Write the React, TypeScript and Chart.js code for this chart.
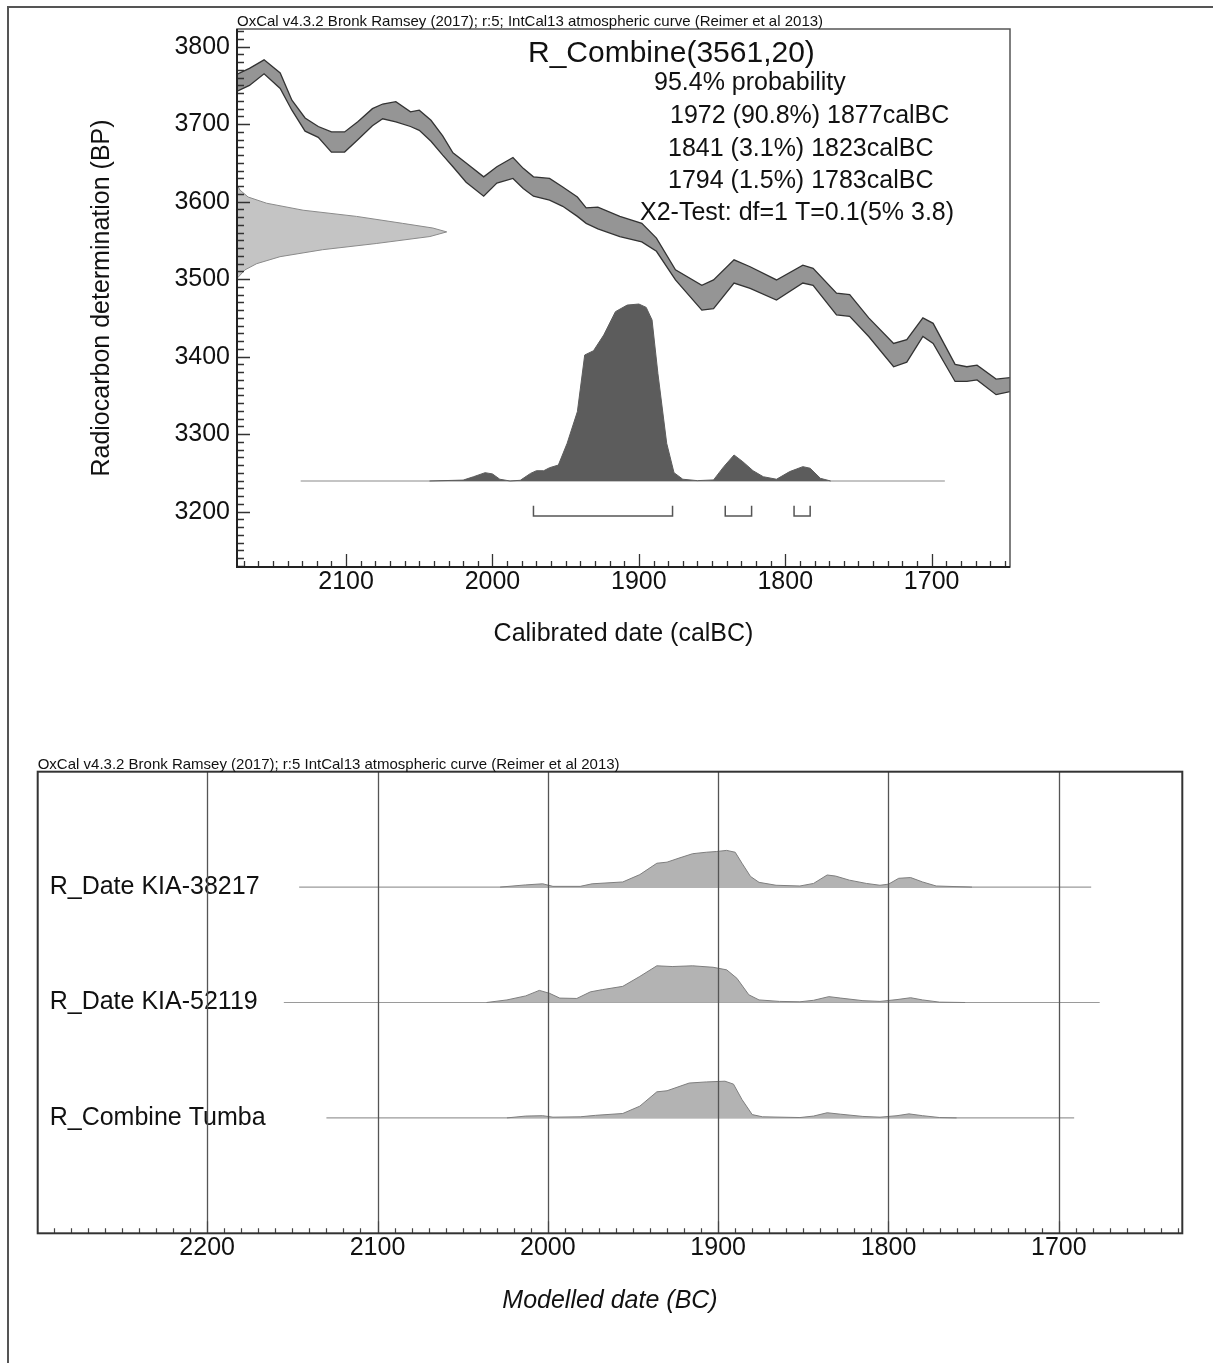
import React, { useEffect, useRef } from "react";
import { Chart, registerables } from "chart.js";

Chart.register(...registerables);

const FONT = '"Liberation Sans", Arial, Helvetica, sans-serif';

// ---------- texts ----------
const headerTop = "OxCal v4.3.2 Bronk Ramsey (2017); r:5; IntCal13 atmospheric curve (Reimer et al 2013)";
const headerBottom = "OxCal v4.3.2 Bronk Ramsey (2017); r:5 IntCal13 atmospheric curve (Reimer et al 2013)";
const topTexts = [
  "R_Combine(3561,20)",
  "95.4% probability",
  "1972 (90.8%) 1877calBC",
  "1841 (3.1%) 1823calBC",
  "1794 (1.5%) 1783calBC",
  "X2-Test: df=1 T=0.1(5% 3.8)",
];

// ---------- top chart data ----------
const calYears = [2175, 2166, 2156, 2145, 2137, 2128, 2119, 2110, 2101, 2092, 2082, 2075, 2066, 2056, 2050, 2042, 2034, 2027, 2018, 2006, 1997, 1986, 1979, 1972, 1961, 1952, 1942, 1936, 1928, 1913, 1898, 1888, 1875, 1857, 1849, 1835, 1824, 1806, 1788, 1781, 1765, 1756, 1743, 1726, 1717, 1706, 1699, 1684, 1676, 1669, 1656, 1646];
const calUpper = [3764, 3772, 3783, 3766, 3731, 3708, 3697, 3690, 3690, 3703, 3720, 3726, 3729, 3716, 3718, 3705, 3685, 3663, 3650, 3632, 3645, 3657, 3643, 3632, 3630, 3619, 3606, 3592, 3593, 3581, 3572, 3553, 3512, 3492, 3499, 3525, 3516, 3499, 3518, 3514, 3482, 3480, 3450, 3417, 3422, 3450, 3443, 3390, 3387, 3389, 3371, 3373];
const calLower = [3742, 3750, 3765, 3746, 3718, 3691, 3683, 3664, 3664, 3680, 3698, 3707, 3703, 3697, 3692, 3678, 3660, 3645, 3625, 3607, 3624, 3630, 3617, 3607, 3602, 3594, 3581, 3572, 3565, 3555, 3548, 3536, 3499, 3460, 3462, 3495, 3488, 3473, 3495, 3492, 3454, 3452, 3426, 3387, 3393, 3426, 3417, 3368, 3368, 3370, 3351, 3355];

const rcBP = [3622, 3615, 3606, 3598, 3589, 3581, 3572, 3566, 3561, 3555, 3546, 3538, 3529, 3520, 3512, 3501];
const rcProb = [0, 0.014, 0.053, 0.141, 0.315, 0.57, 0.79, 0.934, 1, 0.92, 0.664, 0.408, 0.205, 0.094, 0.038, 0];

const postYears = [2043, 2020, 2013, 2005, 2000, 1995, 1988, 1981, 1974, 1970, 1965, 1961, 1955, 1949, 1942, 1937, 1931, 1924, 1916, 1908, 1900, 1895, 1891, 1887, 1881, 1876, 1870, 1860, 1849, 1842, 1835, 1829, 1822, 1815, 1806, 1797, 1788, 1783, 1776, 1769];
const postProb = [0, 0.005, 0.024, 0.047, 0.04, 0.01, 0, 0.004, 0.043, 0.058, 0.058, 0.075, 0.09, 0.213, 0.392, 0.712, 0.736, 0.825, 0.957, 0.994, 1, 0.981, 0.91, 0.608, 0.213, 0.047, 0.01, 0.002, 0.006, 0.081, 0.147, 0.109, 0.058, 0.024, 0.01, 0.053, 0.081, 0.072, 0.015, 0];
const postSpan = [2131, 1691];
const ranges95 = [[1972, 1877], [1841, 1823], [1794, 1783]];

const topXTicks = [2100, 2000, 1900, 1800, 1700];
const topYTicks = [3200, 3300, 3400, 3500, 3600, 3700, 3800];

// ---------- bottom chart data ----------
const rowNames = ["R_Date KIA-38217", "R_Date KIA-52119", "R_Combine Tumba"];
const row1Years = [2028, 2013, 2003, 1997, 1981, 1974, 1956, 1946, 1936, 1930, 1923, 1915, 1907, 1901, 1895, 1890, 1886, 1881, 1876, 1866, 1852, 1844, 1836, 1831, 1823, 1813, 1805, 1800, 1794, 1787, 1780, 1772, 1751];
const row1Prob = [0, 0.06, 0.09, 0.02, 0.02, 0.09, 0.14, 0.34, 0.65, 0.68, 0.79, 0.91, 0.95, 0.97, 1, 0.95, 0.65, 0.29, 0.13, 0.05, 0.03, 0.1, 0.33, 0.3, 0.19, 0.1, 0.05, 0.08, 0.24, 0.26, 0.14, 0.03, 0];
const row2Years = [2036, 2024, 2013, 2005, 1999, 1993, 1983, 1975, 1968, 1956, 1946, 1936, 1927, 1915, 1903, 1895, 1889, 1882, 1876, 1864, 1852, 1844, 1835, 1828, 1815, 1805, 1795, 1787, 1780, 1770, 1755];
const row2Prob = [0, 0.07, 0.18, 0.33, 0.25, 0.12, 0.11, 0.29, 0.35, 0.44, 0.71, 1, 0.98, 1, 0.96, 0.89, 0.66, 0.21, 0.07, 0.03, 0.02, 0.06, 0.16, 0.12, 0.05, 0.03, 0.08, 0.13, 0.07, 0.01, 0];
const row3Years = [2024, 2013, 2003, 1997, 1981, 1972, 1956, 1946, 1936, 1930, 1917, 1907, 1896, 1891, 1886, 1880, 1874, 1852, 1844, 1836, 1828, 1815, 1805, 1795, 1788, 1780, 1770, 1760];
const row3Prob = [0, 0.05, 0.06, 0.02, 0.03, 0.07, 0.12, 0.32, 0.71, 0.74, 0.95, 0.98, 1, 0.92, 0.5, 0.09, 0.03, 0.01, 0.05, 0.14, 0.1, 0.04, 0.02, 0.06, 0.11, 0.06, 0.01, 0];
const rowSpans = [[2146, 1681], [2155, 1676], [2130, 1691]];
const bottomXTicks = [2200, 2100, 2000, 1900, 1800, 1700];
const rowYTicks = [1, 2, 3];

const tickFont = { family: FONT, size: 25 };

// ---------- plugins ----------
const topDecor = {
  id: "topDecor",
  afterDraw(chart: any) {
    const { ctx, chartArea: a, scales } = chart;
    const xs = scales.x;
    const ys = scales.y;
    ctx.save();
    ctx.strokeStyle = "#333";
    ctx.lineWidth = 1.3;
    ctx.beginPath();
    for (let v = 1650; v <= 2170; v += 10) {
      const p = Math.round(xs.getPixelForValue(v)) + 0.5;
      const len = v % 100 === 0 ? 13 : 6;
      ctx.moveTo(p, a.bottom);
      ctx.lineTo(p, a.bottom - len);
    }
    for (let v = 3130; v <= 3820; v += 10) {
      const p = Math.round(ys.getPixelForValue(v)) + 0.5;
      const len = v % 100 === 0 ? 13 : 7;
      ctx.moveTo(a.left, p);
      ctx.lineTo(a.left + len, p);
    }
    ctx.stroke();
    ctx.strokeStyle = "#555";
    ctx.lineWidth = 1.5;
    ctx.strokeRect(a.left, a.top, a.right - a.left, a.bottom - a.top);
    ctx.strokeStyle = "#222";
    ctx.lineWidth = 2;
    ctx.beginPath();
    ctx.moveTo(a.left, a.top);
    ctx.lineTo(a.left, a.bottom);
    ctx.lineTo(a.right, a.bottom);
    ctx.stroke();

    ctx.fillStyle = "#111";
    ctx.textAlign = "left";
    ctx.textBaseline = "alphabetic";
    ctx.font = `15px ${FONT}`;
    ctx.fillText(headerTop, a.left, a.top - 3);

    const place = [
      [528, 62, 30],
      [654, 90, 25],
      [670, 123, 25],
      [668, 156, 25],
      [668, 188, 25],
      [640, 220, 25],
    ];
    topTexts.forEach((t, i) => {
      const [x, y, s] = place[i];
      ctx.font = `${s}px ${FONT}`;
      ctx.fillText(t, x, y);
    });
    ctx.restore();
  },
};

const bottomDecor = {
  id: "bottomDecor",
  afterDatasetsDraw(chart: any) {
    const { ctx, chartArea: a, scales } = chart;
    const xs = scales.x;
    ctx.save();
    ctx.strokeStyle = "#555";
    ctx.lineWidth = 1.3;
    ctx.beginPath();
    bottomXTicks.forEach((v) => {
      const p = Math.round(xs.getPixelForValue(v)) + 0.5;
      ctx.moveTo(p, a.top);
      ctx.lineTo(p, a.bottom);
    });
    ctx.stroke();
    ctx.restore();
  },
  afterDraw(chart: any) {
    const { ctx, chartArea: a, scales } = chart;
    const xs = scales.x;
    ctx.save();
    ctx.strokeStyle = "#444";
    ctx.lineWidth = 1.2;
    ctx.beginPath();
    for (let v = 1630; v <= 2290; v += 10) {
      const p = Math.round(xs.getPixelForValue(v)) + 0.5;
      const len = v % 100 === 0 ? 12 : 5;
      ctx.moveTo(p, a.bottom);
      ctx.lineTo(p, a.bottom - len);
    }
    ctx.stroke();
    ctx.strokeStyle = "#333";
    ctx.lineWidth = 2;
    ctx.strokeRect(a.left, a.top, a.right - a.left, a.bottom - a.top);
    ctx.fillStyle = "#111";
    ctx.textAlign = "left";
    ctx.textBaseline = "alphabetic";
    ctx.font = `15px ${FONT}`;
    ctx.fillText(headerBottom, a.left, a.top - 3);
    ctx.restore();
  },
};

function TopChart() {
  const ref = useRef<HTMLCanvasElement>(null);
  useEffect(() => {
    const canvas = ref.current as HTMLCanvasElement;
    const upper = calYears.map((x, i) => ({ x, y: calUpper[i] }));
    const lower = calYears.map((x, i) => ({ x, y: calLower[i] }));
    const rc = rcBP.map((y, i) => ({ x: rcProb[i], y }));
    const post = postYears.map((x, i) => ({ x, y: postProb[i] }));
    const base = postSpan.map((x) => ({ x, y: 0 }));
    const brackets: any[] = [];
    ranges95.forEach(([a, b]) => {
      brackets.push({ x: a, y: -0.14 }, { x: a, y: -0.198 }, { x: b, y: -0.198 }, { x: b, y: -0.14 }, { x: b, y: null });
    });
    const chart = new Chart(canvas, {
      type: "line",
      data: {
        datasets: [
          { data: upper, xAxisID: "x", yAxisID: "y", borderColor: "#333", borderWidth: 1.3, fill: false, order: 3 },
          { data: lower, xAxisID: "x", yAxisID: "y", borderColor: "#333", borderWidth: 1.3, fill: "-1", backgroundColor: "#959595", order: 3 },
          { data: rc, indexAxis: "y", xAxisID: "xProb", yAxisID: "y", borderColor: "#8a8a8a", borderWidth: 1, fill: { value: 0 }, backgroundColor: "#c4c4c4", order: 3 },
          { data: post, xAxisID: "x", yAxisID: "yProb", borderColor: "#5c5c5c", borderWidth: 1, fill: { value: 0 }, backgroundColor: "#5c5c5c", order: 1 },
          { data: base, xAxisID: "x", yAxisID: "yProb", borderColor: "#b0b0b0", borderWidth: 1.5, fill: false, order: 2 },
          { data: brackets, xAxisID: "x", yAxisID: "yProb", borderColor: "#555", borderWidth: 1.5, fill: false, spanGaps: false, order: 1 },
        ] as any,
      },
      options: {
        responsive: false,
        animation: false,
        events: [],
        layout: { padding: { left: 0, top: 29, right: 203, bottom: 0 } },
        plugins: { legend: { display: false }, tooltip: { enabled: false } },
        elements: { point: { radius: 0 }, line: { tension: 0 } },
        scales: {
          x: {
            type: "linear",
            min: 1646.5,
            max: 2174.5,
            reverse: true,
            afterBuildTicks: (s: any) => { s.ticks = topXTicks.map((value) => ({ value })); },
            afterFit: (s: any) => { s.height = 113; },
            grid: { display: false, drawTicks: false },
            border: { display: false },
            ticks: { font: tickFont, color: "#111", padding: 0, maxRotation: 0, autoSkip: false, callback: (v: any) => String(v) },
            title: { display: true, text: "Calibrated date (calBC)", font: tickFont, color: "#111", padding: { top: 0, bottom: 31 } },
          },
          y: {
            type: "linear",
            min: 3128.6,
            max: 3822.8,
            afterBuildTicks: (s: any) => { s.ticks = topYTicks.map((value) => ({ value })); },
            afterFit: (s: any) => { s.width = 237; },
            grid: { display: false, drawTicks: false },
            border: { display: false },
            ticks: { font: tickFont, color: "#111", padding: 7, autoSkip: false, callback: (v: any) => String(v) },
            title: { display: true, text: "Radiocarbon determination (BP)", font: tickFont, color: "#111", padding: { top: 87, bottom: 0 } },
          },
          xProb: { type: "linear", display: false, min: 0, max: 3.686 },
          yProb: { type: "linear", display: false, min: -0.486, max: 2.554 },
        } as any,
      },
      plugins: [topDecor],
    } as any);
    return () => chart.destroy();
  }, []);
  return <canvas ref={ref} width={1213} height={680} style={{ position: "absolute", left: 0, top: 0 }} />;
}

function BottomChart() {
  const ref = useRef<HTMLCanvasElement>(null);
  useEffect(() => {
    const canvas = ref.current as HTMLCanvasElement;
    const rows = [
      [row1Years, row1Prob],
      [row2Years, row2Prob],
      [row3Years, row3Prob],
    ];
    const peak = 0.318;
    const datasets: any[] = [];
    rows.forEach(([yrs, pr], r) => {
      const rowY = 3 - r;
      datasets.push({
        data: (yrs as number[]).map((x, i) => ({ x, y: rowY + (pr as number[])[i] * peak })),
        borderColor: "#7e7e7e",
        borderWidth: 1,
        backgroundColor: "#b3b3b3",
        fill: { value: rowY },
        order: 1,
      });
      datasets.push({
        data: rowSpans[r].map((x) => ({ x, y: rowY })),
        borderColor: "#9a9a9a",
        borderWidth: 1.2,
        fill: false,
        order: 2,
      });
    });
    const chart = new Chart(canvas, {
      type: "line",
      data: { datasets },
      options: {
        responsive: false,
        animation: false,
        events: [],
        layout: { padding: { left: 0, top: 71.7, right: 30.7, bottom: 0 } },
        plugins: { legend: { display: false }, tooltip: { enabled: false } },
        elements: { point: { radius: 0 }, line: { tension: 0 } },
        scales: {
          x: {
            type: "linear",
            min: 1627.5,
            max: 2299.5,
            reverse: true,
            afterBuildTicks: (s: any) => { s.ticks = bottomXTicks.map((value) => ({ value })); },
            afterFit: (s: any) => { s.height = 129.7; },
            grid: { display: false, drawTicks: false },
            border: { display: false },
            ticks: { font: tickFont, color: "#111", padding: 0, maxRotation: 0, autoSkip: false, callback: (v: any) => String(v) },
            title: { display: true, text: "Modelled date (BC)", font: { family: FONT, size: 25, style: "italic" }, color: "#111", padding: { top: 0, bottom: 47 } },
          },
          y: {
            type: "linear",
            min: 0,
            max: 4,
            afterBuildTicks: (s: any) => { s.ticks = rowYTicks.map((value) => ({ value })); },
            afterFit: (s: any) => { s.width = 37.7; },
            grid: { display: false, drawTicks: false },
            border: { display: false },
            ticks: { font: tickFont, color: "#111", mirror: true, padding: 12, autoSkip: false, callback: (v: any) => rowNames[3 - v] },
          },
        } as any,
      },
      plugins: [bottomDecor],
    } as any);
    return () => chart.destroy();
  }, []);
  return <canvas ref={ref} width={1213} height={663} style={{ position: "absolute", left: 0, top: 700 }} />;
}

export default function App() {
  return (
    <div style={{ position: "absolute", left: 0, top: 0, width: 1213, height: 1363, background: "#fff", overflow: "hidden" }}>
      <div style={{ position: "absolute", left: 7, top: 6, width: 1206, height: 1357, borderTop: "2px solid #555", borderLeft: "2px solid #555", boxSizing: "border-box" }} />
      <TopChart />
      <BottomChart />
    </div>
  );
}
